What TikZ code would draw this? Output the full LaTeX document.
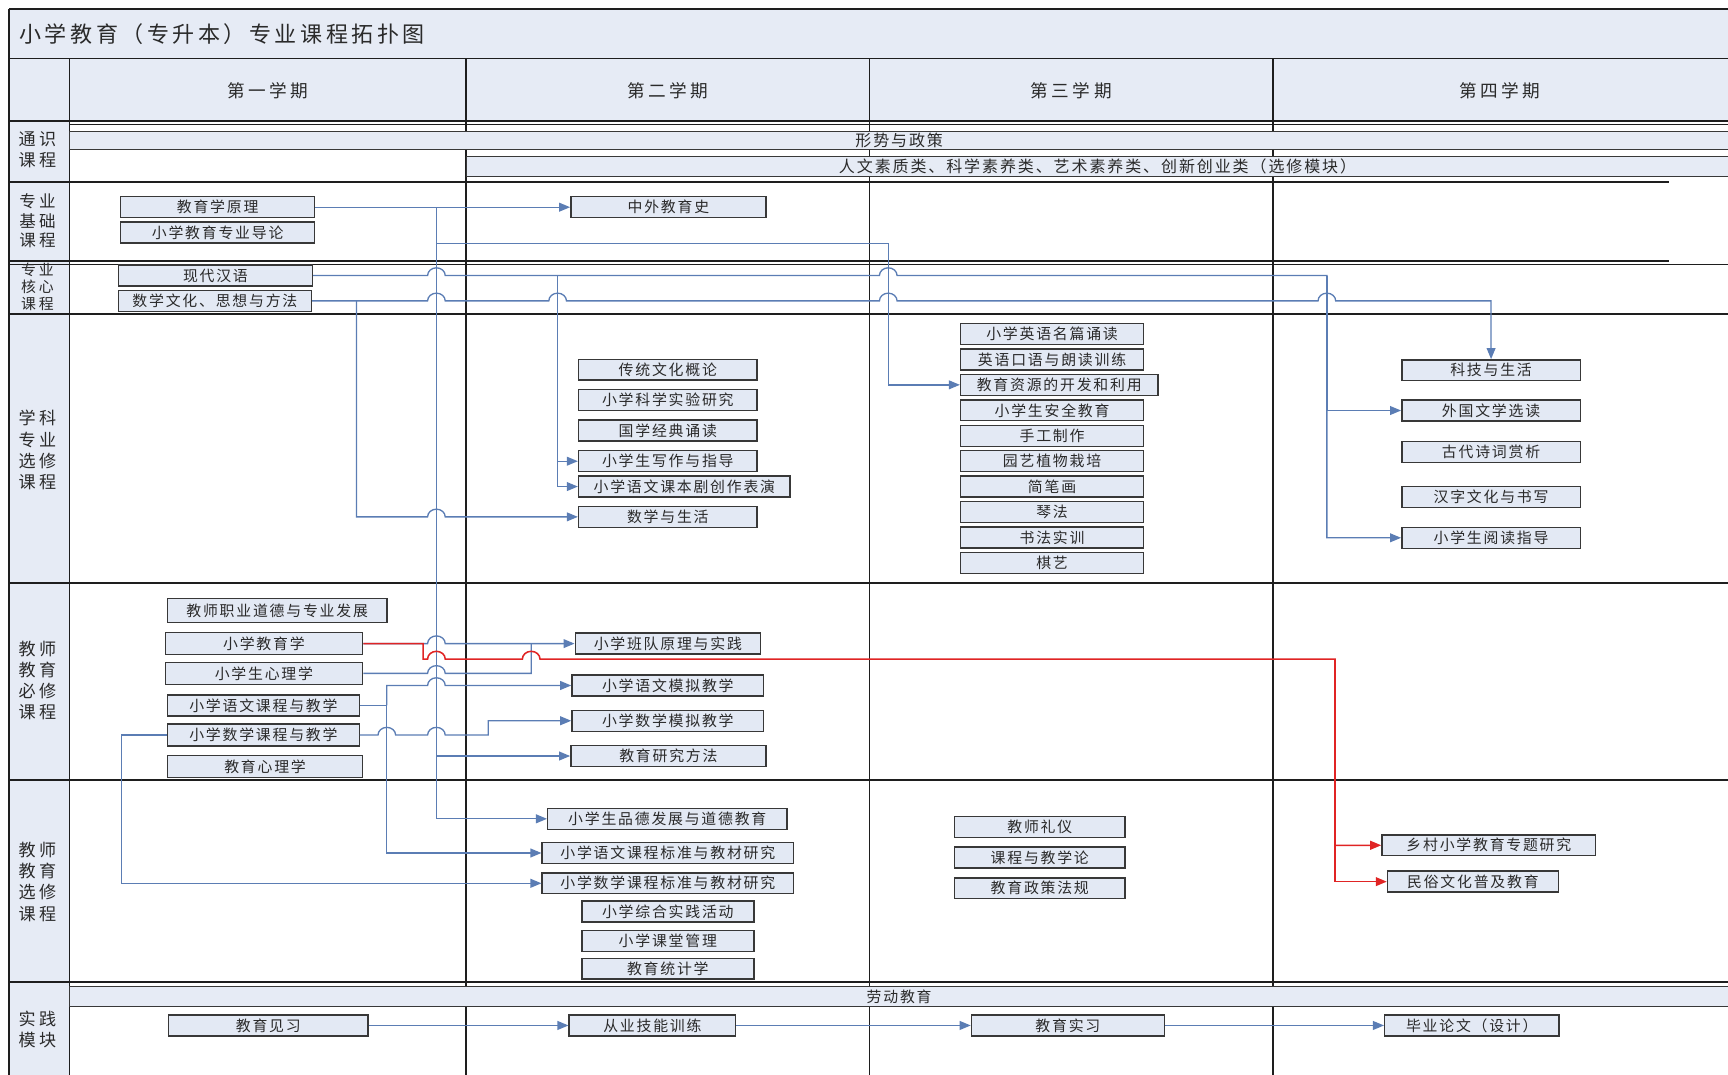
\documentclass[tikz,border=0pt]{standalone}
\usepackage{fontspec}
\newfontfamily\cjk[LetterSpace=12]{Noto Sans CJK SC}
\newfontfamily\cjkhead[LetterSpace=20]{Noto Sans CJK SC}
\newfontfamily\cjktitle[LetterSpace=16]{Noto Sans CJK SC}
\usetikzlibrary{arrows.meta, calc}
\definecolor{bandfill}{HTML}{E6EBF5}
\definecolor{boxfill}{HTML}{E3E9F4}
\definecolor{boxline}{HTML}{383838}
\definecolor{linkblue}{HTML}{5B7DB4}
\definecolor{linkred}{HTML}{E02424}
\definecolor{gridline}{HTML}{1E1E1E}
\definecolor{txt}{HTML}{2A2A2A}
% small bump where a connector jumps over another one
\newcommand{\hop}[2]{-- (#1-8,#2) arc[start angle=180,end angle=0,x radius=8pt,y radius=7pt]}

\begin{document}
\begin{tikzpicture}[x=1pt,y=-1pt,
 course/.style={draw=boxline,line width=1.3pt,fill=boxfill,minimum height=19pt,inner sep=0pt,text=txt,font=\cjk\fontsize{13.5}{14}\selectfont},
 band/.style={draw=boxline,line width=0.8pt,fill=bandfill,inner sep=0pt,anchor=north west,text=txt,font=\cjk\fontsize{14.5}{15}\selectfont},
 lane/.style={align=center,text=txt,font=\cjkhead\fontsize{15.5}{19.3}\selectfont},
 head/.style={text=txt,font=\cjkhead\fontsize{16}{17}\selectfont},
 link/.style={draw=linkblue,line width=1.2pt,-{Triangle[length=10pt,width=8pt]}},
 plain/.style={draw=linkblue,line width=1.2pt},
 redlink/.style={draw=linkred,line width=1.4pt,-{Triangle[length=10pt,width=8pt]}},
 grid/.style={draw=gridline,line width=1.6pt}]
 \useasboundingbox (0,0) rectangle (1568,975);

 % title, header row and lane column
 \fill[bandfill] (8,8) rectangle (1568,110);
 \fill[bandfill] (8,110) rectangle (63,975);
 \node[anchor=west,text=txt,font=\cjktitle\fontsize{20}{22}\selectfont] (title) at (14,31) {小学教育（专升本）专业课程拓扑图};
 \foreach \t/\x [count=\i] in {第一学期/243,第二学期/606,第三学期/972,第四学期/1361}
 \node[head] (sem\i) at (\x,82) {\t};

 % grid
 \draw[grid] (8,8) -- (1568,8);
 \draw[grid] (8,8) -- (8,975);
 \draw[grid] (8,53) -- (1568,53);
 \draw[grid] (8,110) -- (1568,110);
 \draw[gridline,line width=1pt] (63,113) -- (1568,113);
 \foreach \x in {63,423,789,1155}
 \draw[grid] (\x,53) -- (\x,975);
 \draw[grid] (8,165) -- (1514,165);
 \draw[grid] (8,237) -- (1514,237);
 \draw[gridline,line width=1pt] (8,240) -- (1568,240);
 \foreach \y in {285,529,708,891}
 \draw[grid] (8,\y) -- (1568,\y);

 % bands spanning the semesters
 \node[band,minimum width=1505,minimum height=16] (xszc) at (63,119) {形势与政策};
 \node[band,minimum width=1145,minimum height=18] (rwsz) at (423,142) {人文素质类、科学素养类、艺术素养类、创新创业类（选修模块）};
 \node[band,minimum width=1505,minimum height=18,font=\cjk\fontsize{13.5}{14}\selectfont] (ldjy) at (63,895) {劳动教育};

 % lanes
 \node[lane] (lane1) at (34,136) {通识\\课程};
 \node[lane,font=\cjkhead\fontsize{15}{17.5}\selectfont] (lane2) at (34,200.5) {专业\\基础\\课程};
 \node[lane,font=\cjkhead\fontsize{13.5}{15.5}\selectfont] (lane3) at (34,260) {专业\\核心\\课程};
 \node[lane] (lane4) at (34,408.5) {学科\\专业\\选修\\课程};
 \node[lane] (lane5) at (34,617.5) {教师\\教育\\必修\\课程};
 \node[lane] (lane6) at (34,800) {教师\\教育\\选修\\课程};
 \node[lane] (lane7) at (34,934) {实践\\模块};

 % junctions of the connectors
 \coordinate (tA) at (396,188);
 \coordinate (tB) at (806,221);
 \coordinate (tC) at (506,250);
 \coordinate (tD) at (1204,250);
 \coordinate (tE) at (323.5,273);
 \coordinate (tF) at (1211.5,598);
 \coordinate (tG) at (351,640);

 % courses, first semester
 \node[course,minimum width=176] (jyxyl) at (197.5,188) {教育学原理};
 \node[course,minimum width=176] (zydl) at (197.5,211) {小学教育专业导论};
 \node[course,minimum width=176] (xdhy) at (195.5,250) {现代汉语};
 \node[course,minimum width=175] (sxwh) at (195,273) {数学文化、思想与方法};
 \node[course,minimum width=199,minimum height=22] (zyfz) at (251.5,554) {教师职业道德与专业发展};
 \node[course,minimum width=179,minimum height=20] (xjyx) at (239.5,584) {小学教育学};
 \node[course,minimum width=179,minimum height=20] (xxsxl) at (239.5,611) {小学生心理学};
 \node[course,minimum width=174] (xywk) at (239,640) {小学语文课程与教学};
 \node[course,minimum width=174,minimum height=20] (xsk) at (239,667) {小学数学课程与教学};
 \node[course,minimum width=177,minimum height=20] (jyxl) at (240.5,695.5) {教育心理学};
 \node[course,minimum width=181] (jyjx) at (243.5,930.5) {教育见习};

 % second semester
 \node[course,minimum width=177] (zwjys) at (606.5,188) {中外教育史};
 \foreach \t/\y/\n in {传统文化概论/335.5/ctwh,小学科学实验研究/363/kxsy,国学经典诵读/390.5/gxjd,小学生写作与指导/418.5/xzzd,数学与生活/469/sxsh}
 \node[course,minimum width=162] (\n) at (606,\y) {\t};
 \node[course,minimum width=192] (kbj) at (621,441.5) {小学语文课本剧创作表演};
 \node[course,minimum width=168] (bdyl) at (606,584) {小学班队原理与实践};
 \node[course,minimum width=174] (ywmn) at (606,622) {小学语文模拟教学};
 \node[course,minimum width=174] (sxmn) at (606,654) {小学数学模拟教学};
 \node[course,minimum width=177] (yjff) at (606.5,686) {教育研究方法};
 \node[course,minimum width=217] (pdjy) at (605.5,743) {小学生品德发展与道德教育};
 \node[course,minimum width=228] (ywbz) at (606,774) {小学语文课程标准与教材研究};
 \node[course,minimum width=228] (sxbz) at (606,801.5) {小学数学课程标准与教材研究};
 \foreach \t/\y/\n in {小学综合实践活动/827/zhsj,小学课堂管理/854/ktgl,教育统计学/879/tjx}
 \node[course,minimum width=156] (\n) at (606,\y) {\t};
 \node[course,minimum width=151] (jnxl) at (592,930.5) {从业技能训练};

 % third semester
 \foreach \t/\w/\n [count=\i from 0] in {小学英语名篇诵读/166/ywmp,英语口语与朗读训练/166/kyld,教育资源的开发和利用/179/zyky,小学生安全教育/166/aqjy,手工制作/166/sgzz,园艺植物栽培/166/yyzw,简笔画/166/jbh,琴法/166/qf,书法实训/166/sfsx,棋艺/166/qy}
 \node[course,minimum width=\w,anchor=west] (\n) at (871,303+23.1*\i) {\t};
 \foreach \t/\y/\n in {教师礼仪/750.5/jsly,课程与教学论/778/kcjx,教育政策法规/806/zcfg}
 \node[course,minimum width=155] (\n) at (943.5,\y) {\t};
 \node[course,minimum width=175] (jysx) at (969,930.5) {教育实习};

 % fourth semester
 \foreach \t/\y/\n in {科技与生活/336/kjsh,外国文学选读/372.5/wgwx,古代诗词赏析/410/gdsc,汉字文化与书写/451/hzwh,小学生阅读指导/488/xsyd}
 \node[course,minimum width=162] (\n) at (1353,\y) {\t};
 \node[course,minimum width=194] (xcjy) at (1351,767) {乡村小学教育专题研究};
 \node[course,minimum width=155] (msjy) at (1336.5,800) {民俗文化普及教育};
 \node[course,minimum width=158] (bylw) at (1335.5,930.5) {毕业论文（设计）};

 % connectors from 教育学原理
 \draw[link] (jyxyl.east) -- (zwjys.west);
 \draw[link] (tA) |- (pdjy.west);
 \draw[link] (tA |- tB) -- (tB) |- (zyky.west);
 \draw[link] (tA |- yjff.west) -- (yjff.west);

 % connectors from 现代汉语 and 数学文化
 \draw[link] (xdhy.east) \hop{396}{250} \hop{806}{250} -- (tD) |- (xsyd.west);
 \draw[link] (tD) |- (wgwx.west);
 \draw[link] (tC) |- (xzzd.west);
 \draw[link] (tC) |- (kbj.west);
 \draw[link] (sxwh.east) \hop{396}{273} \hop{506}{273} \hop{806}{273} \hop{1204}{273}
 -- (kjsh.north |- sxwh.east) -- (kjsh.north);
 \draw[link] (tE) -- (tE |- sxsh.west) \hop{396}{469} -- (sxsh.west);

 % teacher education
 \draw[link] (xjyx.east) \hop{396}{584} -- (bdyl.west);
 \draw[plain] (xxsxl.east) \hop{396}{611} -- (482,611) -- (482,584);
 \draw[plain] (xywk.east) -- (tG);
 \draw[link] (tG) -- (351,622) \hop{396}{622} -- (ywmn.west);
 \draw[link] (tG) |- (ywbz.west);
 \draw[link] (xsk.east) \hop{351}{667} \hop{396}{667} -- (443,667) -- (443,654) -- (sxmn.west);
 \draw[link] (xsk.west) -- (110,667) |- (sxbz.west);
 \draw[redlink] (xjyx.east) -- (384,584) -- (384,598) \hop{396}{598} \hop{482}{598} -- (tF) |- (xcjy.west);
 \draw[redlink] (tF) |- (msjy.west);

 % practice
 \draw[link] (jyjx.east) -- (jnxl.west);
 \draw[link] (jnxl.east) -- (jysx.west);
 \draw[link] (jysx.east) -- (bylw.west);
\end{tikzpicture}
\end{document}
